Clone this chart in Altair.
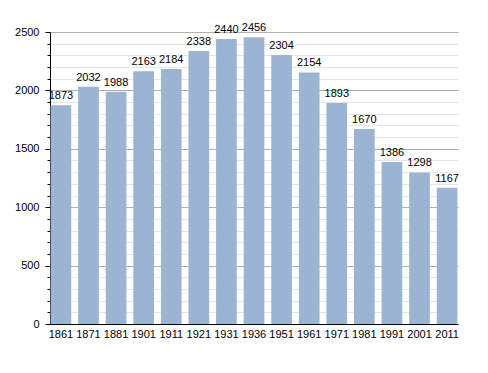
import altair as alt
import pandas as pd

years = ["1861", "1871", "1881", "1901", "1911", "1921", "1931", "1936",
         "1951", "1961", "1971", "1981", "1991", "2001", "2011"]
population = [1873, 2032, 1988, 2163, 2184, 2338, 2440, 2456,
              2304, 2154, 1893, 1670, 1386, 1298, 1167]

df = pd.DataFrame({"year": years, "pop": population})

y_ticks = list(range(0, 2501, 100))

x = alt.X("year:N", sort=years, title=None,
          scale=alt.Scale(paddingInner=0.25, paddingOuter=0.02),
          axis=alt.Axis(labelAngle=0, ticks=False, domainColor="black",
                        labelFont="Liberation Sans", labelFontSize=11,
                        labelColor="black", labelPadding=4, grid=False))
y = alt.Y("pop:Q", title=None,
          scale=alt.Scale(domain=[0, 2500], nice=False),
          axis=alt.Axis(values=y_ticks, labelOverlap=False, labelBound=False,
                        labelExpr="datum.value % 500 === 0 ? datum.label : ''",
                        labelFont="Liberation Sans", labelFontSize=11,
                        labelColor="black", domainColor="black",
                        tickColor="black", grid=True,
                        tickSize={"condition": {"test": "datum.value % 500 === 0", "value": 5}, "value": 3},
                        gridColor={"condition": {"test": "datum.value % 500 === 0", "value": "#b0b0b0"}, "value": "#e6e6e6"},
                        labelPadding=6, format="d"))

base = alt.Chart(df).encode(x=x, y=y)
bars = base.mark_bar(color="#9bb4d1")
text = base.mark_text(dy=-4, baseline="bottom", font="Liberation Sans",
                      fontSize=11, color="black").encode(text="pop:Q")

chart = (bars + text).properties(
    width=408, height=292,
    autosize="none",
    padding={"left": 42, "top": 24, "right": 22, "bottom": 41},
).configure_view(stroke=None)

chart.save("out.html", embed_options={"renderer": "svg", "actions": False})
